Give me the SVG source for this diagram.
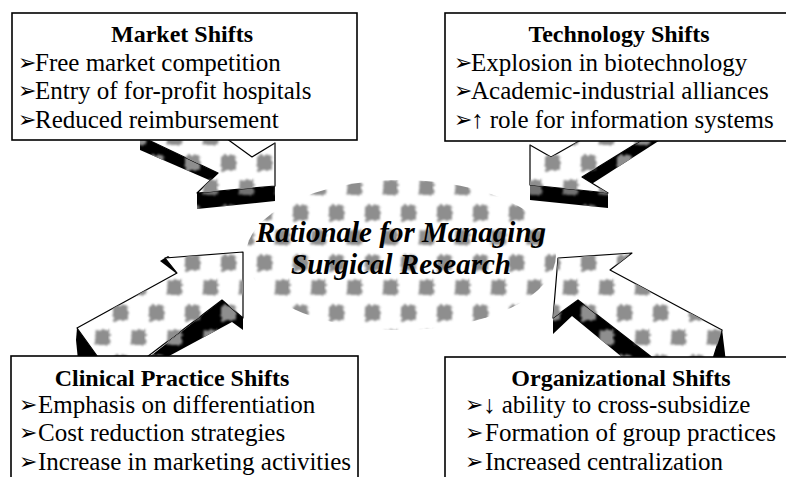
<svg xmlns="http://www.w3.org/2000/svg" width="786" height="477" viewBox="0 0 786 477">
  <defs>
    <filter id="soft" x="-30%" y="-30%" width="160%" height="160%">
      <feTurbulence type="fractalNoise" baseFrequency="0.35" numOctaves="2" seed="4" result="n"/>
      <feDisplacementMap in="SourceGraphic" in2="n" scale="6" xChannelSelector="R" yChannelSelector="G" result="d"/>
      <feGaussianBlur in="d" stdDeviation="0.8"/>
    </filter>
    <!-- mottled grey blocks used on the ellipse and the arrow faces -->
    <pattern id="mottle" width="36" height="50" patternUnits="userSpaceOnUse">
      <g fill="#8e8e8e" filter="url(#soft)">
        <rect x="5" y="5" width="15" height="16" rx="3"/>
        <rect x="23" y="30" width="15" height="15" rx="3"/>
        <rect x="-13" y="30" width="15" height="15" rx="3"/>
      </g>
    </pattern>
    <style>
      .box { fill: #fff; stroke: #000; stroke-width: 1.6; }
      .title { font-weight: bold; font-size: 24px; text-anchor: middle; fill: #000; }
      .item { font-size: 25px; fill: #000; }
      .bul { font-size: 22px; fill: #000; }
      .face { fill: #fff; stroke: #000; stroke-width: 1.2; stroke-linejoin: round; }
      .side { fill: #000; }
      .tex { fill: url(#mottle); }
      .center { font-weight: bold; font-style: italic; font-size: 29px; text-anchor: middle; fill: #000; }
    </style>
  </defs>

  <rect width="786" height="477" fill="#fff"/>

  <!-- central ellipse -->
  <g id="rationale">
    <ellipse cx="401" cy="255" rx="155" ry="75" class="tex"/>
    <text class="center" font-family="Liberation Serif, Times New Roman, serif" x="401" y="242">Rationale for Managing</text>
    <text class="center" font-family="Liberation Serif, Times New Roman, serif" x="401" y="274">Surgical Research</text>
  </g>

  <!-- block arrows from each box toward the ellipse -->
  <g id="connectors">
    <!-- market shifts arrow (down-right) -->
    <g id="arrow-market">
      <polygon class="side" points="140,136 220,174 216,183 140,150"/>
      <polygon class="side" points="197,193 275,186 275,201 197,209"/>
      <polygon class="tex" points="140,136 220,174 216,183 140,150"/>
      <polygon class="tex" points="197,193 275,186 275,201 197,209" opacity="0.8"/>
      <polygon class="face" points="140,136 223,136 252,157 275,143 275,186 197,193 218,173"/>
      <polygon class="tex" points="140,136 223,136 252,157 275,143 275,186 197,193 218,173"/>
    </g>
    <!-- technology shifts arrow (down-left) -->
    <g id="arrow-technology">
      <polygon class="side" points="650,135 668,135 590,185 582,177"/>
      <polygon class="side" points="530,185 608,193 608,208 530,200"/>
      <polygon class="tex" points="650,135 668,135 590,185 582,177"/>
      <polygon class="tex" points="530,185 608,193 608,208 530,200" opacity="0.8"/>
      <polygon class="face" points="588,136 551,157 530,145 530,185 608,193 582,177 650,135"/>
      <polygon class="tex" points="588,136 551,157 530,145 530,185 608,193 582,177 650,135"/>
    </g>
    <!-- clinical practice shifts arrow (up-right) -->
    <g id="arrow-clinical">
      <polygon class="side" points="77,328 100,360 78,360 76,340"/>
      <polygon class="side" points="160,261 168,256 186,268 177,274"/>
      <polygon class="side" points="222,300 243,318 243,330 232,322 158,362 143,362"/>
      <polygon class="tex" points="222,300 243,318 243,330 232,322 158,362 143,362"/>
      <polygon class="face" points="77,328 177,273 165,258 243,252 243,318 222,300 143,360 100,360"/>
      <polygon class="tex" points="77,328 177,273 165,258 243,252 243,318 222,300 143,360 100,360"/>
    </g>
    <!-- organizational shifts arrow (up-left) -->
    <g id="arrow-organizational">
      <polygon class="side" points="722,329 726,362 706,362"/>
      <polygon class="side" points="553,318 578,300 658,362 628,362 572,316 553,334"/>
      <polygon class="tex" points="553,318 578,300 658,362 628,362 572,316 553,334"/>
      <polygon class="face" points="558,258 632,253 610,270 722,330 712,362 658,362 578,300 553,318"/>
      <polygon class="tex" points="558,258 632,253 610,270 722,330 712,362 658,362 578,300 553,318"/>
    </g>
  </g>

  <!-- market shifts box -->
  <g id="market" font-family="Liberation Serif, Times New Roman, serif">
    <rect class="box" x="12" y="13" width="345" height="127"/>
    <text class="title" x="182" y="42">Market Shifts</text>
    <text class="bul" font-family="DejaVu Sans, sans-serif" x="18" y="70">➢</text>
    <text class="item" x="35" y="71">Free market competition</text>
    <text class="bul" font-family="DejaVu Sans, sans-serif" x="18" y="98">➢</text>
    <text class="item" x="35" y="99">Entry of for-profit hospitals</text>
    <text class="bul" font-family="DejaVu Sans, sans-serif" x="18" y="127">➢</text>
    <text class="item" x="35" y="128">Reduced reimbursement</text>
  </g>

  <!-- technology shifts box -->
  <g id="technology" font-family="Liberation Serif, Times New Roman, serif">
    <rect class="box" x="445" y="13" width="350" height="128"/>
    <text class="title" x="619" y="42">Technology Shifts</text>
    <text class="bul" font-family="DejaVu Sans, sans-serif" x="454" y="70">➢</text>
    <text class="item" x="471" y="71">Explosion in biotechnology</text>
    <text class="bul" font-family="DejaVu Sans, sans-serif" x="454" y="98">➢</text>
    <text class="item" x="471" y="99">Academic-industrial alliances</text>
    <text class="bul" font-family="DejaVu Sans, sans-serif" x="454" y="127">➢</text>
    <text class="item" x="471" y="128">↑ role for information systems</text>
  </g>

  <!-- clinical practice shifts box -->
  <g id="clinical" font-family="Liberation Serif, Times New Roman, serif">
    <rect class="box" x="11" y="356" width="347" height="130"/>
    <text class="title" x="172" y="386">Clinical Practice Shifts</text>
    <text class="bul" font-family="DejaVu Sans, sans-serif" x="19" y="412">➢</text>
    <text class="item" x="38" y="413">Emphasis on differentiation</text>
    <text class="bul" font-family="DejaVu Sans, sans-serif" x="19" y="440">➢</text>
    <text class="item" x="38" y="441">Cost reduction strategies</text>
    <text class="bul" font-family="DejaVu Sans, sans-serif" x="19" y="469">➢</text>
    <text class="item" x="38" y="470">Increase in marketing activities</text>
  </g>

  <!-- organizational shifts box -->
  <g id="organizational" font-family="Liberation Serif, Times New Roman, serif">
    <rect class="box" x="445" y="357" width="350" height="130"/>
    <text class="title" x="621" y="386">Organizational Shifts</text>
    <text class="bul" font-family="DejaVu Sans, sans-serif" x="465" y="412">➢</text>
    <text class="item" x="483" y="413">↓ ability to cross-subsidize</text>
    <text class="bul" font-family="DejaVu Sans, sans-serif" x="465" y="440">➢</text>
    <text class="item" x="485" y="441">Formation of group practices</text>
    <text class="bul" font-family="DejaVu Sans, sans-serif" x="465" y="469">➢</text>
    <text class="item" x="485" y="470">Increased centralization</text>
  </g>
</svg>
